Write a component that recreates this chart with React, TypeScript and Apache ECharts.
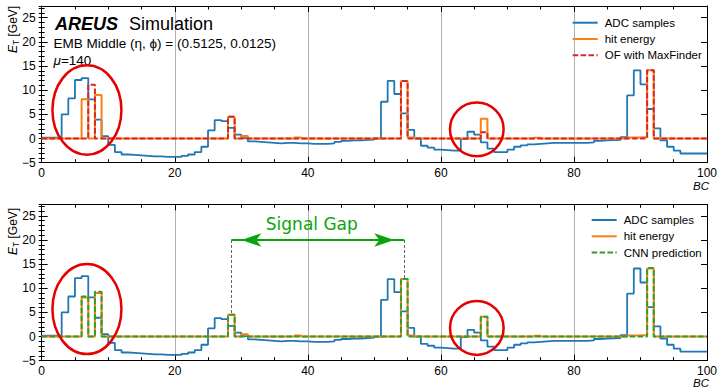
import React, { useEffect, useRef } from 'react';
import * as echarts from 'echarts';

// Bunch crossing index (bin left edges); bins are [BC, BC+1)
const bcEdges = Array.from({ length: 101 }, (_, i) => i);

const adcSamples = [
  0.2, 0.2, 0.2, 5.0, 8.3, 12.1, 12.5, 8.1, 3.9, 0.5,
  -1.3, -2.8, -3.3, -3.4, -3.5, -3.6, -3.7, -3.7, -3.8, -3.8,
  -3.8, -3.6, -3.3, -2.8, -1.7, 1.7, 3.8, 3.6, 2.2, 0.8,
  0.1, -0.6, -0.7, -0.8, -0.9, -1.0, -0.9, -0.9, -1.0, -1.0,
  -1.1, -1.1, -1.1, -1.0, -0.7, -0.5, -0.4, -0.4, -0.3, -0.2,
  0.0, 7.6, 11.9, 9.2, 5.2, 1.8, 0.0, -1.5, -1.9, -2.3,
  -2.4, -2.5, -2.5, -0.1, 1.4, 0.8, -0.8, -2.1, -2.8, -2.8,
  -2.3, -1.7, -1.4, -1.2, -1.1, -1.0, -0.9, -0.9, -0.9, -0.9,
  -0.9, -0.9, -0.8, -0.5, -0.4, -0.35, -0.3, 0.3, 8.9, 14.1,
  11.2, 6.1, 2.1, -0.4, -1.7, -2.5, -3.1, -3.1, -3.1, -3.1,
];

const hitEnergy = [
  0, 0, 0, 0, 0, 0, 8.1, 0, 9.0, 0,
  0, 0, 0, 0, 0, 0, 0, 0, 0, 0,
  0, 0, 0, 0, 0, 0, 0, 0, 4.5, 0,
  0.5, 0, 0, 0, 0, 0, 0, 0, 0.2, 0,
  0, 0, 0, 0, 0, 0, 0, 0, 0, 0,
  0, 0, 0, 0, 11.9, 0.2, 0, 0, 0, 0,
  0, 0, 0, 0, 0, 0, 4.1, 0, 0, 0,
  0, 0, 0, 0, 0.15, 0, 0, 0, 0, 0,
  0, 0, 0, 0, 0, 0, 0, 0, 0.2, 0.2,
  0.3, 14.1, 0, 0, 0, 0, 0, 0, 0, 0,
];

const ofMaxFinder = [
  0, 0, 0, 0, 0, 0, 0, 11.1, 0, 0,
  0, 0, 0, 0, 0, 0, 0, 0, 0, 0,
  0, 0, 0, 0, 0, 0, 0, 0, 4.5, 0,
  0, 0, 0, 0, 0, 0, 0, 0, 0, 0,
  0, 0, 0, 0, 0, 0, 0, 0, 0, 0,
  0, 0, 0, 0, 11.9, 0, 0, 0, 0, 0,
  0, 0, 0, 0, 0, 0, 1.3, 0, 0, 0,
  0, 0, 0, 0, 0, 0, 0, 0, 0, 0,
  0, 0, 0, 0, 0, 0, 0, 0, 0, 0,
  0, 14.1, 0, 0, 0, 0, 0, 0, 0, 0,
];

const cnnPrediction = [
  0, 0, 0, 0, 0, 0, 8.3, 0, 9.3, 0,
  0, 0, 0, 0, 0, 0, 0, 0, 0, 0,
  0, 0, 0, 0, 0, 0, 0, 0, 4.5, 0,
  0, 0, 0, 0, 0, 0, 0, 0, 0, 0,
  0, 0, 0, 0, 0, 0, 0, 0, 0, 0,
  0, 0, 0, 0, 11.9, 0, 0, 0, 0, 0,
  0, 0, 0, 0, 0, 0, 4.1, 0, 0, 0,
  0, 0, 0, 0, 0, 0, 0, 0, 0, 0,
  0, 0, 0, 0, 0, 0, 0, 0, 0, 0,
  0, 14.2, 0, 0, 0, 0, 0, 0, 0, 0,
];

const xTicks = [0, 20, 40, 60, 80, 100];
const yTicks = [-5, 0, 5, 10, 15, 20, 25];

// Signal gap annotation (BC, E_T)
const gapStart = [28.5, 20];
const gapEnd = [54.5, 20];
const gapStartPeak = 4.5;
const gapEndPeak = 11.9;

const FONT = '"Liberation Sans", Arial, Helvetica, sans-serif';
const C_BLUE = '#1f77b4';
const C_ORANGE = '#ff7f0e';
const C_RED = '#d62728';
const C_GREEN = '#2ca02c';
const C_GAP = '#0aa50a';
const C_CIRCLE = '#e60000';

const Y_MIN = yTicks[0];
const Y_MAX = 27.4;

function toSteps(values: number[]) {
  const pts = values.map((v, i) => [bcEdges[i], v]);
  pts.push([bcEdges[values.length], values[values.length - 1]]);
  return pts;
}

function makeXAxes(gridIndex: number) {
  const common = {
    type: 'value',
    gridIndex,
    min: xTicks[0],
    max: xTicks[xTicks.length - 1],
    interval: 20,
    axisLine: { show: true, onZero: false, lineStyle: { color: '#000', width: 1 } },
    axisTick: { show: true, inside: true, length: 6, lineStyle: { color: '#000', width: 1 } },
    minorTick: { show: true, splitNumber: 4, length: 3.5, lineStyle: { color: '#000', width: 1 } },
  };
  return [
    {
      ...common,
      position: 'bottom',
      axisLabel: { show: true, color: '#000', fontSize: 12, lineHeight: 12, margin: 4, fontFamily: FONT },
      splitLine: { show: true, lineStyle: { color: '#b0b0b0', width: 1 } },
    },
    {
      ...common,
      position: 'top',
      axisLabel: { show: false },
      splitLine: { show: false },
    },
  ];
}

function fmtY(v: number) {
  if (v > 25.5) return '';
  return v < 0 ? '\u2212' + Math.abs(v) : String(v);
}

function makeYAxes(gridIndex: number) {
  const common = {
    type: 'value',
    gridIndex,
    min: Y_MIN,
    max: Y_MAX,
    splitLine: { show: false },
  };
  return [
    {
      ...common,
      position: 'left',
      interval: 5,
      axisLine: { show: true, onZero: false, lineStyle: { color: '#000', width: 1 } },
      axisTick: { show: true, inside: true, length: 6, lineStyle: { color: '#000', width: 1 } },
      axisLabel: { show: true, color: '#000', fontSize: 12, margin: 6, fontFamily: FONT, formatter: fmtY, showMaxLabel: false },
    },
    {
      ...common,
      position: 'left',
      interval: 1,
      axisLine: { show: false },
      axisTick: { show: true, inside: true, length: 3, lineStyle: { color: '#000', width: 1 } },
      axisLabel: { show: false },
    },
    {
      ...common,
      position: 'right',
      interval: 5,
      axisLine: { show: true, onZero: false, lineStyle: { color: '#000', width: 1 } },
      axisTick: { show: true, inside: true, length: 6, lineStyle: { color: '#000', width: 1 } },
      axisLabel: { show: false },
    },
    {
      ...common,
      position: 'right',
      interval: 1,
      axisLine: { show: false },
      axisTick: { show: true, inside: true, length: 3, lineStyle: { color: '#000', width: 1 } },
      axisLabel: { show: false },
    },
  ];
}

function stepSeries(name: string, values: number[], color: string, xi: number, yi: number, dashed: boolean, width: number, z: number) {
  return {
    type: 'line',
    name,
    xAxisIndex: xi,
    yAxisIndex: yi,
    data: toSteps(values),
    step: 'end',
    symbol: 'none',
    showSymbol: false,
    silent: true,
    z,
    itemStyle: { color },
    lineStyle: { color, width, type: dashed ? [5.5, 2.4] : 'solid' },
  };
}

const legendCommon = {
  orient: 'vertical',
  itemWidth: 25,
  itemHeight: 10,
  itemGap: 2.3,
  padding: 0,
  selectedMode: false,
  itemStyle: { opacity: 0 },
  textStyle: { fontSize: 11.5, color: '#000', fontFamily: FONT, lineHeight: 14, padding: [0, 0, 0, 2] },
};

export default function App() {
  const ref = useRef<HTMLDivElement>(null);

  useEffect(() => {
    if (!ref.current) return;
    const chart = echarts.init(ref.current, null, { renderer: 'svg' });

    const cnn = stepSeries('CNN prediction', cnnPrediction, C_GREEN, 2, 4, true, 2, 5) as any;
    cnn.markLine = {
      silent: true,
      symbol: ['none', 'none'],
      label: { show: false },
      animation: false,
      data: [
        [{ coord: [gapStart[0], gapStart[1]], lineStyle: { color: '#666', type: [3, 2], width: 1 } }, { coord: [gapStart[0], gapStartPeak] }],
        [{ coord: [gapEnd[0], gapEnd[1]], lineStyle: { color: '#666', type: [3, 2], width: 1 } }, { coord: [gapEnd[0], gapEndPeak] }],
        [{ coord: gapStart, lineStyle: { color: C_GAP, type: 'solid', width: 2 } }, { coord: gapEnd }],
      ],
    };
    cnn.markPoint = {
      silent: true,
      animation: false,
      data: [
        { coord: gapStart, symbol: 'arrow', symbolSize: [10, 20], symbolRotate: 90, symbolOffset: [10, 0], itemStyle: { color: C_GAP }, label: { show: false } },
        { coord: gapEnd, symbol: 'arrow', symbolSize: [10, 20], symbolRotate: -90, symbolOffset: [-10, 0], itemStyle: { color: C_GAP }, label: { show: false } },
        {
          coord: [40.6, 20],
          symbol: 'rect',
          symbolSize: 0.1,
          itemStyle: { color: 'rgba(0,0,0,0)' },
          label: { show: true, formatter: 'Signal Gap', position: 'inside', offset: [0, -16], color: C_GAP, fontSize: 17, fontFamily: '"DejaVu Sans", sans-serif' },
        },
      ],
    };

    const option: any = {
      animation: false,
      textStyle: { fontFamily: FONT },
      grid: [
        { left: 41.7, top: 6, width: 669, height: 156.7 },
        { left: 41.7, top: 204.3, width: 669, height: 156.4 },
      ],
      xAxis: [...makeXAxes(0), ...makeXAxes(1)],
      yAxis: [...makeYAxes(0), ...makeYAxes(1)],
      legend: [
        { ...legendCommon, left: 571.7, top: 15.7, data: ['ADC samples', 'hit energy', 'OF with MaxFinder'] },
        { ...legendCommon, left: 590.7, top: 213, data: ['ADC samples', 'hit energy', 'CNN prediction'] },
      ],
      series: [
        stepSeries('ADC samples', adcSamples, C_BLUE, 0, 0, false, 1.8, 3),
        stepSeries('hit energy', hitEnergy, C_ORANGE, 0, 0, false, 2, 4),
        stepSeries('OF with MaxFinder', ofMaxFinder, C_RED, 0, 0, true, 2, 5),
        stepSeries('ADC samples', adcSamples, C_BLUE, 2, 4, false, 1.8, 3),
        stepSeries('hit energy', hitEnergy, C_ORANGE, 2, 4, false, 2, 4),
        cnn,
      ],
    };
    chart.setOption(option);

    const e1 = chart.convertToPixel({ seriesIndex: 0 }, [6.8, 5.9]) as number[];
    const e2 = chart.convertToPixel({ seriesIndex: 0 }, [65.4, 1.9]) as number[];
    const e3 = chart.convertToPixel({ seriesIndex: 3 }, [6.8, 5.7]) as number[];
    const e4 = chart.convertToPixel({ seriesIndex: 3 }, [65.4, 1.8]) as number[];

    const ellipse = (c: number[], rx: number, ry: number) => ({
      type: 'ellipse',
      shape: { cx: c[0], cy: c[1], rx, ry },
      style: { fill: 'none', stroke: C_CIRCLE, lineWidth: 2.5 },
      z: 100,
      silent: true,
    });

    const txt = (x: number, y: number, text: string, extra: any = {}) => ({
      type: 'text',
      x,
      y,
      silent: true,
      z: 50,
      style: {
        text,
        fill: '#000',
        fontFamily: FONT,
        fontSize: 13.5,
        align: 'left',
        textAlign: 'left',
        verticalAlign: 'middle',
        textVerticalAlign: 'middle',
        ...extra,
      },
    });

    const yLabel = (y: number) => ({
      type: 'text',
      x: 13,
      y,
      rotation: Math.PI / 2,
      silent: true,
      style: {
        text: '{e|E}{t|T} [GeV]',
        fill: '#000',
        fontFamily: FONT,
        fontSize: 12,
        align: 'left',
        textAlign: 'left',
        verticalAlign: 'middle',
        textVerticalAlign: 'middle',
        rich: {
          e: { fontStyle: 'italic', fontSize: 12, fontFamily: FONT, fill: '#000' },
          t: { fontSize: 8.5, fontFamily: FONT, fill: '#000', padding: [5, 0, 0, 0] },
        },
      },
    });

    chart.setOption({
      graphic: {
        elements: [
          txt(55, 24, 'AREUS', { fontSize: 18, fontWeight: 'bold', fontStyle: 'italic' }),
          txt(129, 24, 'Simulation', { fontSize: 18 }),
          txt(53.5, 43, 'EMB Middle (\u03b7, \u03d5) = (0.5125, 0.0125)'),
          txt(53.5, 60, '{m|\u03bc}=140', {
            rich: { m: { fontStyle: 'italic', fontSize: 13.5, fontFamily: FONT, fill: '#000' } },
          }),
          yLabel(53),
          yLabel(255),
          txt(709, 186, 'BC', { fontSize: 11.5, lineHeight: 10, fontStyle: 'italic', align: 'right', textAlign: 'right' }),
          txt(709, 382.5, 'BC', { fontSize: 11.5, lineHeight: 10, fontStyle: 'italic', align: 'right', textAlign: 'right' }),
          ellipse(e1, 34.5, 44.7),
          ellipse(e2, 26.8, 26.8),
          ellipse(e3, 34.5, 45),
          ellipse(e4, 26.8, 27),
        ],
      },
    });

    return () => chart.dispose();
  }, []);

  return <div ref={ref} style={{ position: 'absolute', left: 0, top: 0, width: 720, height: 389 }} />;
}
